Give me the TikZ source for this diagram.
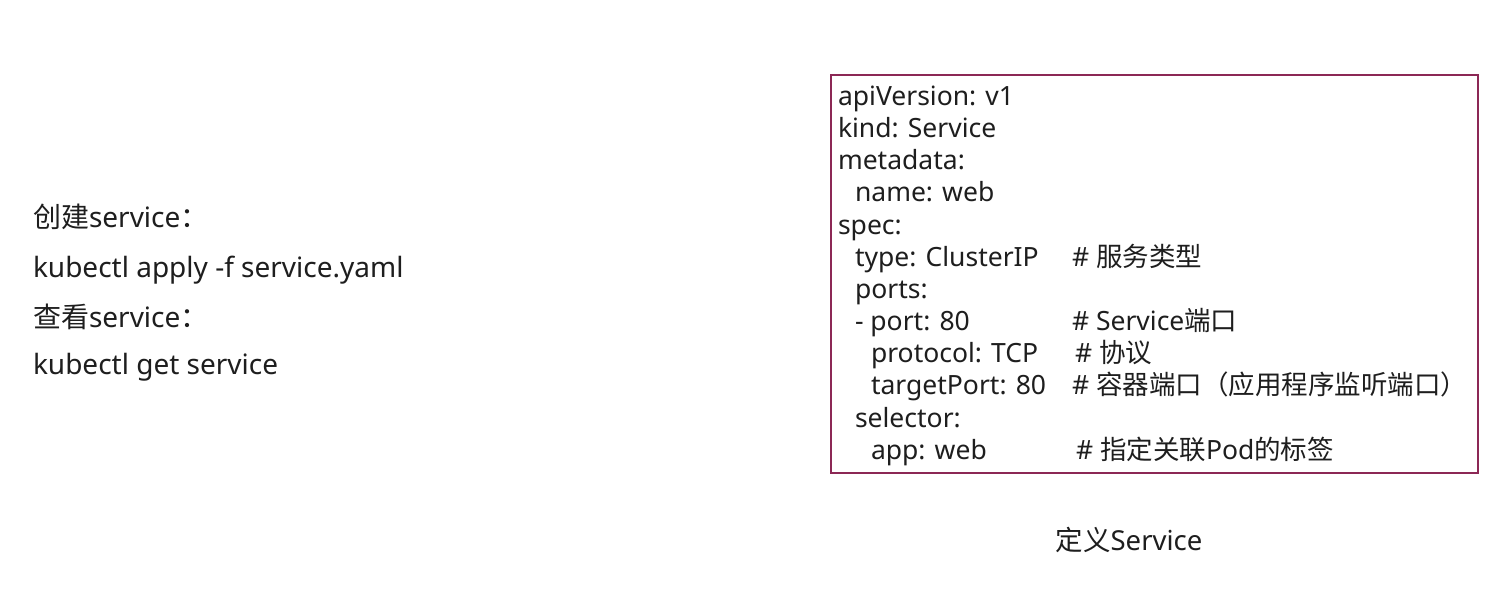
\documentclass[tikz,border=0pt]{standalone}
\usepackage{fontspec}
\setmainfont{Noto Sans}
\newfontfamily\cjk{Noto Sans CJK SC}
\definecolor{boxred}{RGB}{140,40,85}
\definecolor{txt}{RGB}{30,30,30}
\begin{document}
\begin{tikzpicture}[x=1pt,y=-1pt,
  every node/.style={inner sep=0pt, outer sep=0pt, text=txt, font=\fontsize{26.5}{30}\selectfont},
  ln/.style={anchor=base west},
  cmd/.style={anchor=base west, font=\fontsize{28}{32}\selectfont},
  yamlframe/.style={draw=boxred, line width=1.3pt, anchor=north west, minimum width=647pt, minimum height=398pt}]
\useasboundingbox[fill=white] (0,0) rectangle (1502,590);
% left commands
\node[cmd] (c1) at (33,227) {{\cjk 创建}service{\cjk ：}};
\node[cmd] (c2) at (33,277) {kubectl apply -f service.yaml};
\node[cmd] (c3) at (33,327) {{\cjk 查看}service{\cjk ：}};
\node[cmd] (c4) at (33,374) {kubectl get service};
% yaml box
\node[yamlframe] (yamlbox) at (831,75) {};
\node[ln] (y1) at (838,105) {apiVersion: v1};
\node[ln] (y2) at (838,137) {kind: Service};
\node[ln] (y3) at (838,169) {metadata:};
\node[ln] (y4) at (855,201) {name: web};
\node[ln] (y5) at (838,234) {spec:};
\node[ln] (y6) at (855,266) {type: ClusterIP};
\node[ln] (y7) at (855,298) {ports:};
\node[ln] (y8) at (855,330) {- port: 80};
\node[ln] (y9) at (871,362) {protocol: TCP};
\node[ln] (y10) at (871,394) {targetPort: 80};
\node[ln] (y11) at (855,427) {selector:};
\node[ln] (y12) at (871,459) {app: web};
\node[ln] (m6) at (1072,266) {\# {\cjk 服务类型}};
\node[ln] (m8) at (1072,330) {\# Service{\cjk 端口}};
\node[ln] (m9) at (1075,362) {\# {\cjk 协议}};
\node[ln] (m10) at (1072,394) {\# {\cjk 容器端口（应用程序监听端口）}};
\node[ln] (m12) at (1076,459) {\# {\cjk 指定关联}Pod{\cjk 的标签}};
% caption
\node[anchor=base, font=\fontsize{27.5}{32}\selectfont] (cap) at (1129,550) {{\cjk 定义}Service};
\end{tikzpicture}
\end{document}
